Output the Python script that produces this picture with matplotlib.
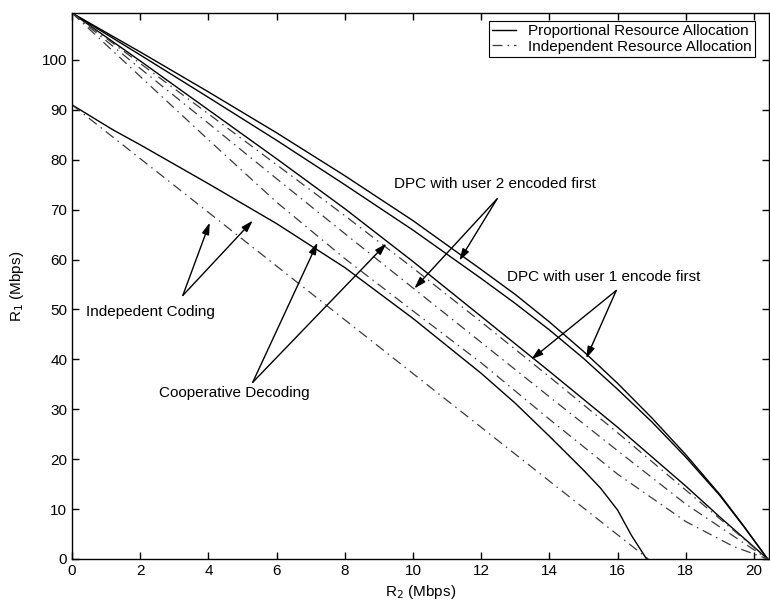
import numpy as np
import matplotlib
matplotlib.use("Agg")
import matplotlib.pyplot as plt
from matplotlib.lines import Line2D

plt.rcParams['font.family'] = ['Liberation Sans', 'DejaVu Sans']

# R2 / R1 rate points (Mbps)
# proportional resource allocation (solid)
s1_x = [0, 2, 4, 6, 8, 10, 12, 13, 14, 15, 16, 17, 18, 19, 19.7, 20.4]
s1_y = [109.4, 101.6, 93.6, 85.4, 76.8, 67.8, 58.0, 53.0, 47.5, 41.6, 35.2, 28.3, 20.9, 12.9, 6.6, 0]
s2_x = [0, 2, 4, 6, 8, 10, 12, 13, 14, 15, 16, 17, 18, 19, 19.7, 20.4]
s2_y = [109.4, 101.0, 92.5, 83.9, 75.0, 65.9, 56.2, 51.2, 45.9, 40.2, 34.0, 27.5, 20.4, 12.7, 6.5, 0]
s3_x = [0, 2, 4, 6, 8, 10, 12, 14, 16, 18, 19, 20.4]
s3_y = [109.4, 99.8, 90.0, 80.2, 70.2, 59.6, 48.6, 37.6, 26.4, 14.6, 8.4, 0]
s4_x = [0, 1.2, 2, 4, 6, 8, 10, 12, 13, 14, 15, 15.5, 16, 16.4, 16.85]
s4_y = [91.0, 86.0, 83.0, 75.2, 67.2, 58.4, 48.2, 37.2, 31.2, 24.6, 17.8, 14.2, 9.8, 4.8, 0]

# independent resource allocation (dash-dot)
d1_x = [0, 2, 4, 6, 8, 10, 12, 14, 16, 18, 20.4]
d1_y = [109.4, 99.3, 89.2, 79.0, 68.8, 58.3, 47.5, 36.5, 25.3, 13.8, 0]
d2_x = [0, 2, 4, 6, 8, 10, 12, 14, 16, 18, 20.4]
d2_y = [109.4, 98.3, 87.3, 76.2, 65.2, 54.3, 43.4, 32.5, 21.7, 11.0, 0]
d3_x = [0, 2, 4, 6, 8, 10, 12, 14, 16, 18, 19.4, 20.4]
d3_y = [109.4, 96.7, 84.0, 71.5, 60.2, 49.7, 39.3, 28.0, 17.0, 7.5, 2.5, 0]
d4_x = [0, 16.9]
d4_y = [91.0, 0]

x_ticks = list(range(0, 21, 2))
y_ticks = list(range(0, 101, 10))

# annotation text, arrow start and arrow tips (data units)
notes = [
    ("DPC with user 2 encoded first", (12.39, 75.2), (12.47, 72.2), [(11.36, 59.8), (10.04, 54.2)]),
    ("DPC with user 1 encode first", (15.6, 56.6), (15.96, 53.8), [(15.08, 40.2), (13.47, 40.0)]),
    ("Indepedent Coding", (2.31, 49.4), (3.25, 52.8), [(4.04, 67.4), (5.3, 67.8)]),
    ("Cooperative Decoding", (4.77, 33.2), (5.3, 35.4), [(7.2, 63.4), (9.22, 63.2)]),
]

fig = plt.figure(figsize=(7.7, 6.06), dpi=100)
ax = fig.add_axes([0.0935, 0.0776, 0.9052, 0.9009])

dash = (0, (8, 4, 1.2, 4))
for x, y in [(s1_x, s1_y), (s2_x, s2_y), (s3_x, s3_y), (s4_x, s4_y)]:
    ax.plot(x, y, color='black', lw=1.0)
for x, y in [(d1_x, d1_y), (d2_x, d2_y), (d3_x, d3_y), (d4_x, d4_y)]:
    ax.plot(x, y, color='#3a3a3a', lw=0.9, linestyle=dash)

ax.set_xlim(0, 20.44)
ax.set_ylim(0, 109.4)
ax.set_xticks(x_ticks)
ax.set_yticks(y_ticks)
ax.tick_params(direction='in', length=5, width=1, top=True, right=True, labelsize=11)
for sp in ax.spines.values():
    sp.set_linewidth(1.0)

ax.set_xlabel("R$_2$ (Mbps)", fontsize=11, labelpad=4)
ax.set_ylabel("R$_1$ (Mbps)", fontsize=11, labelpad=11)

for text, tpos, start, tips in notes:
    ax.text(tpos[0], tpos[1], text, fontsize=11, ha='center', va='center')
    for tip in tips:
        ax.annotate("", xy=tip, xytext=start,
                    arrowprops=dict(arrowstyle='-|>,head_length=0.7,head_width=0.22',
                                    color='black', lw=1.0, shrinkA=0, shrinkB=0))

handles = [Line2D([], [], color='black', lw=1.0),
           Line2D([], [], color='#3a3a3a', lw=0.9, linestyle=dash)]
leg = ax.legend(handles, ["Proportional Resource Allocation", "Independent Resource Allocation"],
                loc='upper right', bbox_to_anchor=(0.98, 0.985), borderaxespad=0,
                fancybox=False, edgecolor='black', framealpha=1, fontsize=11,
                handlelength=1.6, borderpad=0.2, labelspacing=0.1, handletextpad=0.8)
leg.get_frame().set_linewidth(0.8)

fig.savefig("out.png", dpi=100)
